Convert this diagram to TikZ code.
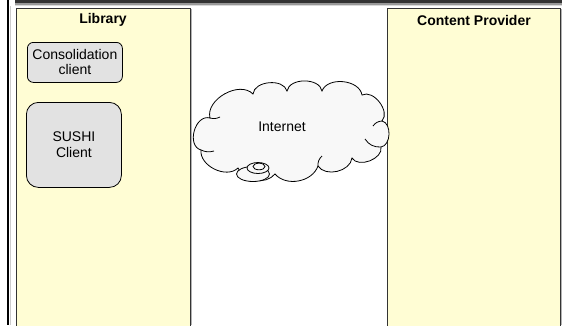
\documentclass[tikz,border=0pt]{standalone}
\usepackage{fontspec}
\setmainfont{Liberation Sans}
\definecolor{panelyellow}{HTML}{FFFDD4}
\definecolor{clientgray}{HTML}{E2E2E2}
\definecolor{cloudgray}{HTML}{F8F8F8}
\tikzset{
  panel/.style={draw=black!80, line width=0.9pt, fill=panelyellow, anchor=north west, inner sep=0pt},
  paneltitle/.style={font=\fontsize{14}{16}\selectfont\bfseries},
  client/.style={draw=black, line width=0.8pt, fill=clientgray, anchor=north west, align=center, inner sep=0pt},
  plain/.style={font=\fontsize{14}{15}\selectfont},
  cloudline/.style={draw=black, line width=0.8pt},
  shadowline/.style={draw=black!30, line width=1pt}
}
\begin{document}
\begin{tikzpicture}[x=1pt,y=-1pt]
\useasboundingbox (0,0) rectangle (562,325);
\fill[white] (0,0) rectangle (562,325);
% frame remnants
\fill[black!80] (15,0) rectangle (562,3);
\fill[black!40] (15,3) rectangle (562,4.5);
\fill[black!15] (15,4.5) rectangle (562,5.5);
\fill[black] (6.5,0) rectangle (8.7,325);
\draw[shadowline, black!20] (10.7,6) -- (10.7,325);
% panels
\draw[shadowline] (191.2,9) -- (191.2,325);
\draw[shadowline] (561.2,9) -- (561.2,325);
\node[panel, minimum width=174pt, minimum height=322pt] (lib) at (16,8) {};
\node[panel, minimum width=173pt, minimum height=322pt] (cp) at (387,8) {};
\node[paneltitle] (libt) at (103,20) {Library};
\node[paneltitle] (cpt) at (474,20) {Content Provider};
% clients
\node[client, rounded corners=6pt, minimum width=95pt, minimum height=40pt] (cons) at (27,42) {};
\node[plain, align=center] (const) at (cons.center) {Consolidation\\client};
\node[client, rounded corners=12pt, minimum width=95pt, minimum height=85pt] (sushi) at (26,102) {};
\node[plain, align=center, font=\fontsize{14}{16}\selectfont] (sushit) at (sushi.center) {SUSHI\\Client};
% cloud
\path[cloudline, fill=cloudgray]
  (210,118) to[bend left=75] (253,94)
  to[bend left=80] (287,91)
  to[bend left=80] (322,91)
  to[bend left=75] (362,95)
  to[bend left=80] (382,121)
  to[bend left=80] (381,147)
  to[bend left=80] (352,158)
  to[bend left=70] (318,166)
  to[bend left=60] (275,174)
  to[bend left=60] (238,168)
  to[bend left=70] (201,150)
  to[bend left=90, looseness=1.2] cycle;
% inner curls
\draw[cloudline] (201,150) to[bend right=20] (214,151);
\draw[cloudline] (210,118) to[bend right=20] (220,117);
\draw[cloudline] (382,121) to[bend right=25] (373,126);
\draw[cloudline] (381,147) to[bend left=30] (365,139);
\draw[cloudline] (318,166) to[bend left=25] (322,156);
\node[plain] (inet) at (282,127) {Internet};
% bubble
\draw[cloudline, fill=cloudgray] (253,174) ellipse [x radius=16.5, y radius=7.5];
\draw[cloudline, fill=cloudgray] (258,168) ellipse [x radius=11, y radius=5.5];
\draw[cloudline, fill=cloudgray] (259,166.5) ellipse [x radius=6, y radius=3.3];
\end{tikzpicture}
\end{document}
